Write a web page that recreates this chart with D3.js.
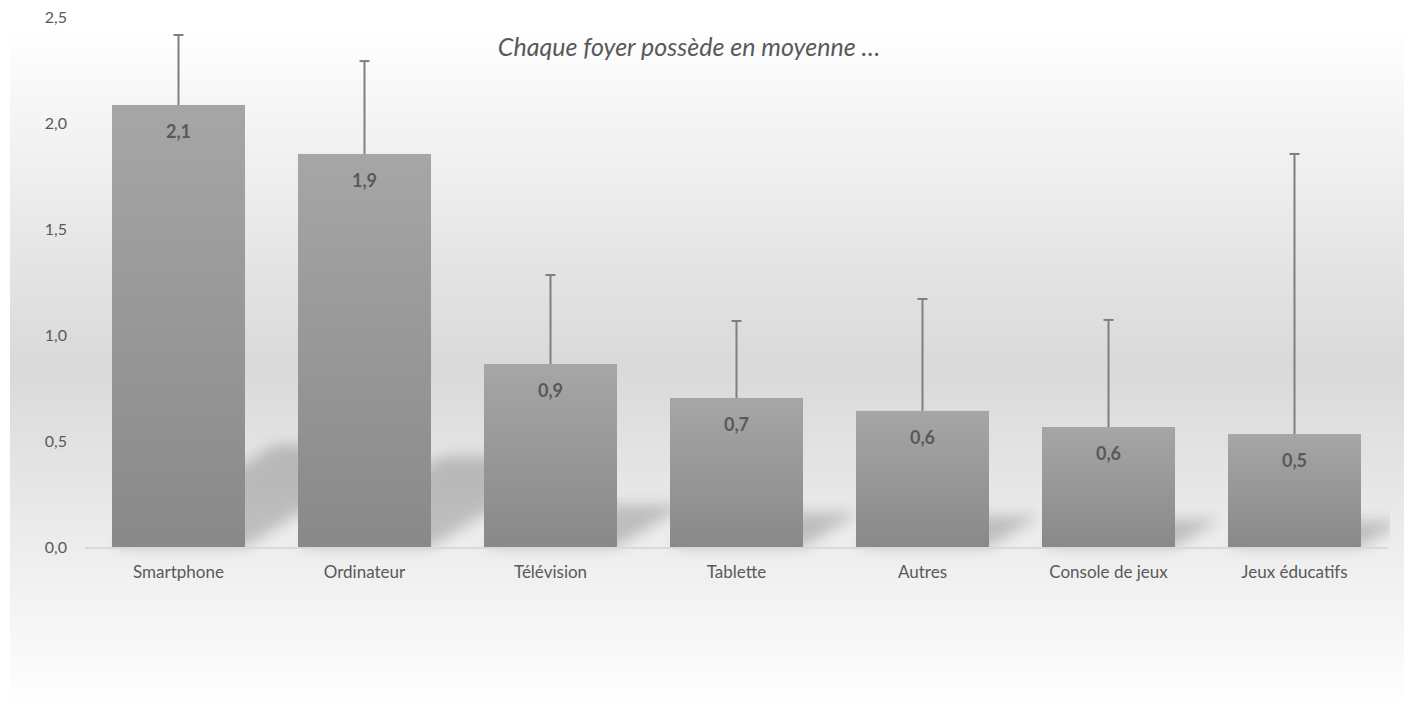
<!DOCTYPE html>
<html>
<head>
<meta charset="utf-8">
<script src="https://cdn.jsdelivr.net/npm/d3@7"></script>
<style>
body { margin:0; background:#fff; }
text { font-family: Lato, "Open Sans", sans-serif; fill:#595959; }
</style>
</head>
<body>
<div id="graph"></div>
<script>
var categories = ["Smartphone", "Ordinateur", "Télévision", "Tablette", "Autres", "Console de jeux", "Jeux éducatifs"];
var values = [2.085, 1.854, 0.863, 0.703, 0.642, 0.566, 0.533];
var errorPlus = [0.33, 0.438, 0.42, 0.363, 0.528, 0.505, 1.321];
var yTicks = [0, 0.5, 1.0, 1.5, 2.0, 2.5];
var title = "Chaque foyer possède en moyenne …";

var W = 1404, H = 707;
var fr = d3.formatLocale({decimal: ",", thousands: " ", grouping: [3], currency: ["", "€"]});
var fmt = fr.format(".1f");

var svg = d3.select("#graph").append("svg").attr("width", W).attr("height", H);
var defs = svg.append("defs");

var bg = defs.append("linearGradient").attr("id", "bg").attr("x1", 0).attr("y1", 0).attr("x2", 0).attr("y2", 1);
bg.append("stop").attr("offset", "0%").attr("stop-color", "#ffffff");
bg.append("stop").attr("offset", "50%").attr("stop-color", "#d9d9d9");
bg.append("stop").attr("offset", "100%").attr("stop-color", "#ffffff");

var bar = defs.append("linearGradient").attr("id", "bar").attr("x1", 0).attr("y1", 0).attr("x2", 0).attr("y2", 1);
bar.append("stop").attr("offset", "0%").attr("stop-color", "#a6a6a6");
bar.append("stop").attr("offset", "100%").attr("stop-color", "#898989");

defs.append("filter").attr("id", "blur").attr("x", "-50%").attr("y", "-50%").attr("width", "200%").attr("height", "200%")
  .append("feGaussianBlur").attr("stdDeviation", 7);

defs.append("clipPath").attr("id", "plotclip").append("rect")
  .attr("x", 10).attr("y", 0).attr("width", 1380).attr("height", H);

svg.append("rect").attr("x", 10).attr("y", 27).attr("width", W - 10).attr("height", H - 27).attr("fill", "url(#bg)");

var x = d3.scaleBand().domain(categories).range([85.5, 1387.5]).paddingInner(0.285).paddingOuter(0.1425);
var y = d3.scaleLinear().domain([0, 2.5]).range([547, 17]);

// ombres
var shadows = svg.append("g").attr("clip-path", "url(#plotclip)");
shadows.selectAll("path")
  .data(values)
  .enter().append("path")
    .attr("d", function(d, i){
      var x0 = x(categories[i]), x1 = x0 + x.bandwidth();
      var y0 = y(0), hs = (y(0) - y(d)) * 0.23, dx = hs * 1.6;
      return "M" + x0 + "," + y0 + "L" + x1 + "," + y0 + "L" + (x1 + dx) + "," + (y0 - hs) + "L" + (x0 + dx) + "," + (y0 - hs) + "Z";
    })
    .attr("fill", "#000")
    .attr("opacity", 0.19)
    .attr("filter", "url(#blur)");

svg.append("line").attr("x1", 85).attr("x2", 1388).attr("y1", y(0) + 1).attr("y2", y(0) + 1)
  .attr("stroke", "#d9d9d9").attr("stroke-width", 2);

// barres d'erreur
var err = svg.append("g");
err.selectAll("line.v").data(values).enter().append("line")
  .attr("class", "v")
  .attr("x1", function(d, i){ return x(categories[i]) + x.bandwidth() / 2; })
  .attr("x2", function(d, i){ return x(categories[i]) + x.bandwidth() / 2; })
  .attr("y1", function(d){ return y(d); })
  .attr("y2", function(d, i){ return y(d + errorPlus[i]); })
  .attr("stroke", "#7f7f7f").attr("stroke-width", 2);
err.selectAll("line.c").data(values).enter().append("line")
  .attr("class", "c")
  .attr("x1", function(d, i){ return x(categories[i]) + x.bandwidth() / 2 - 5; })
  .attr("x2", function(d, i){ return x(categories[i]) + x.bandwidth() / 2 + 5; })
  .attr("y1", function(d, i){ return y(d + errorPlus[i]); })
  .attr("y2", function(d, i){ return y(d + errorPlus[i]); })
  .attr("stroke", "#7f7f7f").attr("stroke-width", 2);

var bars = svg.append("g");
bars.selectAll("rect").data(values).enter().append("rect")
  .attr("x", function(d, i){ return x(categories[i]); })
  .attr("y", function(d){ return y(d); })
  .attr("width", x.bandwidth())
  .attr("height", function(d){ return y(0) - y(d); })
  .attr("fill", "url(#bar)");

bars.selectAll("text").data(values).enter().append("text")
  .attr("x", function(d, i){ return x(categories[i]) + x.bandwidth() / 2; })
  .attr("y", function(d){ return y(d) + 33; })
  .attr("text-anchor", "middle")
  .style("font-size", "18px").style("font-weight", "bold")
  .text(function(d){ return fmt(d); });

var yAxis = d3.axisLeft(y).tickValues(yTicks).tickFormat(fmt).tickSize(0).tickPadding(0);
var ga = svg.append("g").attr("transform", "translate(67,0)").call(yAxis);
ga.select(".domain").remove();
ga.selectAll("text").style("font-size", "16px").style("font-family", "Lato, sans-serif").attr("fill", "#595959");

var xAxis = d3.axisBottom(x).tickSize(0).tickPadding(0);
var gx = svg.append("g").attr("transform", "translate(0,566)").call(xAxis);
gx.select(".domain").remove();
gx.selectAll("text").style("font-size", "17px").style("font-family", "Lato, sans-serif").attr("fill", "#595959");

svg.append("text")
  .attr("x", 689).attr("y", 56)
  .attr("text-anchor", "middle")
  .style("font-size", "25px").style("font-style", "italic")
  .text(title);
</script>
</body>
</html>
